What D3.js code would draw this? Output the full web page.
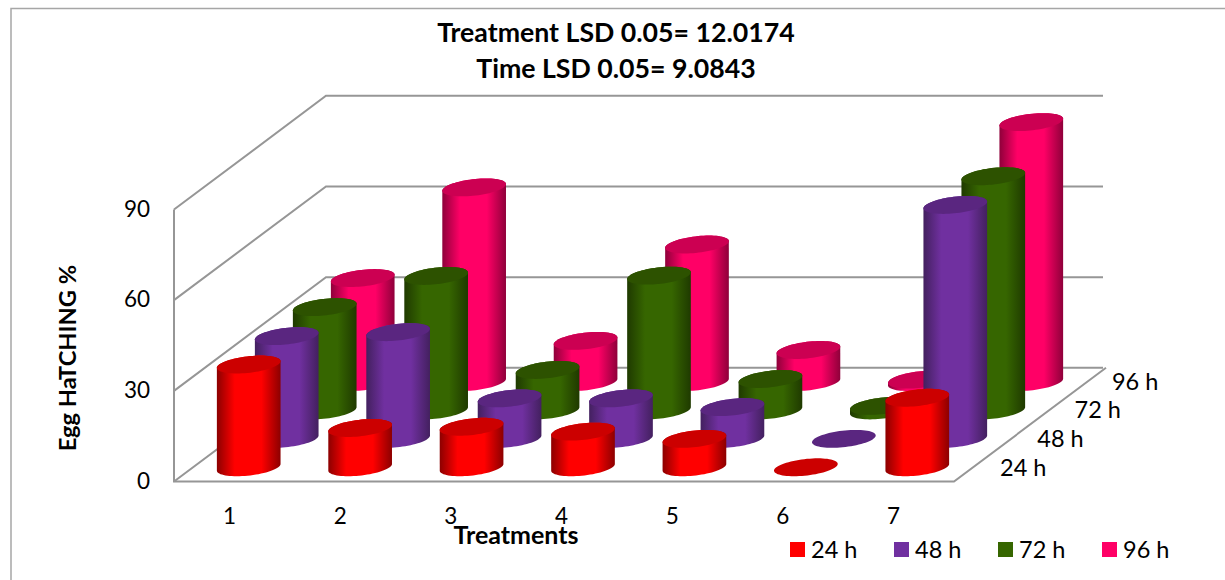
<!DOCTYPE html>
<html>
<head>
<meta charset="utf-8">
<script src="https://cdnjs.cloudflare.com/ajax/libs/d3/7.8.5/d3.min.js"></script>
<style>
  body { margin: 0; background: #fff; }
  text { font-family: Lato, "Open Sans", sans-serif; fill: #000; }
</style>
</head>
<body>
<div id="chart"></div>
<script>
const treatments = ["1", "2", "3", "4", "5", "6", "7"];
const times = ["24 h", "48 h", "72 h", "96 h"];
const h24 = [34, 13, 13.4, 11.8, 9.4, 0, 23];
const h48 = [34, 35.3, 13.4, 13.4, 10.5, 0, 77.4];
const h72 = [34.2, 44.5, 13.4, 44.6, 10.4, 1.5, 77.5];
const h96 = [34.4, 64.4, 13.6, 45.5, 10.6, 0.8, 86];
const yTicks = [0, 30, 60, 90];
const titleLines = ["Treatment LSD 0.05= 12.0174", "Time LSD 0.05= 9.0843"];

const seriesValues = [h24, h48, h72, h96];
const colors = ["#ff0000", "#7030a0", "#366600", "#ff0066"];
const topColors = ["#cc0000", "#5a2680", "#2d5200", "#cc0052"];
const edgeColors = ["#8c0000", "#43205f", "#1f3a00", "#8f003a"];

const width = 1225, height = 580;

const svg = d3.select("#chart").append("svg")
  .attr("width", width)
  .attr("height", height)
  .style("display", "block");

// outer chart border, only top and left are in the picture
svg.append("path")
  .attr("d", "M11,580V8.5H1225")
  .attr("fill", "none")
  .attr("stroke", "#a6a6a6")
  .attr("stroke-width", 1.5);

// the 3d box: x runs along the front edge, depth is a fraction going back
const x = d3.scaleBand().domain(treatments).range([174, 954]);
const depth = d3.scaleBand().domain(times).range([0, 1]);
const y = d3.scaleLinear().domain([0, 90]).range([481.5, 209.5]);
const depthX = 152, depthY = -113.7;

function project(px, dz, v) {
  return [px + dz * depthX, y(v) + dz * depthY];
}

// grid on the left and back walls
const grid = svg.append("g")
  .attr("fill", "none")
  .attr("stroke", "#969696")
  .attr("stroke-width", 2);

grid.selectAll("path")
  .data(yTicks)
  .join("path")
  .attr("d", d => d3.line()([project(174, 0, d), project(174, 1, d), project(1103 - depthX, 1, d)]));

grid.append("path")
  .attr("d", d3.line()([project(174, 0, 90), project(174, 0, 0), project(954, 0, 0), project(954, 1, 0)]));

// gradients across the cylinder sides
const defs = svg.append("defs");
colors.forEach((c, i) => {
  const g = defs.append("linearGradient").attr("id", "side" + i);
  g.append("stop").attr("offset", "0%").attr("stop-color", edgeColors[i]);
  g.append("stop").attr("offset", "28%").attr("stop-color", c);
  g.append("stop").attr("offset", "70%").attr("stop-color", c);
  g.append("stop").attr("offset", "100%").attr("stop-color", edgeColors[i]);
});

const rx = 0.265 * x.bandwidth();
const rz = 0.315 * depth.bandwidth();

function ellipse(cat, time, v) {
  const cx = x(cat) + x.bandwidth() / 2;
  const cz = depth(time) + depth.bandwidth() / 2;
  return d3.range(0, 72).map(i => {
    const t = i / 72 * 2 * Math.PI;
    return project(cx + rx * Math.cos(t), cz + rz * Math.sin(t), v);
  });
}

const closed = d3.line().curve(d3.curveLinearClosed);

// back series first so the front ones cover them
d3.range(times.length - 1, -1, -1).forEach(s => {
  const g = svg.append("g");
  treatments.forEach((cat, c) => {
    const v = seriesValues[s][c];
    const bottom = ellipse(cat, times[s], 0);
    const top = ellipse(cat, times[s], v);
    if (v > 0) {
      g.append("path")
        .attr("d", closed(d3.polygonHull(bottom.concat(top))))
        .attr("fill", `url(#side${s})`);
    }
    g.append("path")
      .attr("d", closed(top))
      .attr("fill", topColors[s]);
  });
});

// value axis
const yAxis = svg.append("g")
  .attr("transform", "translate(150,0)")
  .call(d3.axisLeft(y).tickValues(yTicks).tickSize(0).tickPadding(0));
yAxis.select(".domain").remove();
yAxis.selectAll("text").style("font-size", "22.5px").style("font-family", "Lato").attr("dy", "0.3em");

// treatment labels sit a bit tighter than the bars
const catLabel = d3.scalePoint().domain(treatments).range([229, 893]);
const xAxis = svg.append("g")
  .attr("transform", "translate(0,513)")
  .call(d3.axisBottom(catLabel).tickSize(0).tickPadding(0));
xAxis.select(".domain").remove();
xAxis.selectAll("text").style("font-size", "22.5px").style("font-family", "Lato").attr("dy", "0.5em");

// depth labels along the right floor edge
svg.append("g").selectAll("text")
  .data(times)
  .join("text")
  .attr("x", (d, i) => 1000 + i * 37.3)
  .attr("y", (d, i) => 476 - i * 28.8)
  .attr("font-size", 23.5)
  .text(d => d);

// titles
svg.append("g").selectAll("text")
  .data(titleLines)
  .join("text")
  .attr("x", 616)
  .attr("y", (d, i) => 42 + i * 36)
  .attr("text-anchor", "middle")
  .attr("font-size", 26.7)
  .attr("font-weight", "bold")
  .text(d => d);

svg.append("text")
  .attr("x", 516)
  .attr("y", 544)
  .attr("text-anchor", "middle")
  .attr("font-size", 25)
  .attr("font-weight", "bold")
  .text("Treatments");

svg.append("text")
  .attr("transform", "translate(76,358) rotate(-90)")
  .attr("text-anchor", "middle")
  .attr("font-size", 23.7)
  .attr("font-weight", "bold")
  .text("Egg HaTCHING %");

// legend
const legend = svg.append("g").selectAll("g")
  .data(times)
  .join("g")
  .attr("transform", (d, i) => `translate(${790 + i * 104},0)`);

legend.append("rect")
  .attr("y", 542)
  .attr("width", 15)
  .attr("height", 15)
  .attr("fill", (d, i) => colors[i]);

legend.append("text")
  .attr("x", 21)
  .attr("y", 558)
  .attr("font-size", 23.5)
  .text(d => d);
</script>
</body>
</html>
